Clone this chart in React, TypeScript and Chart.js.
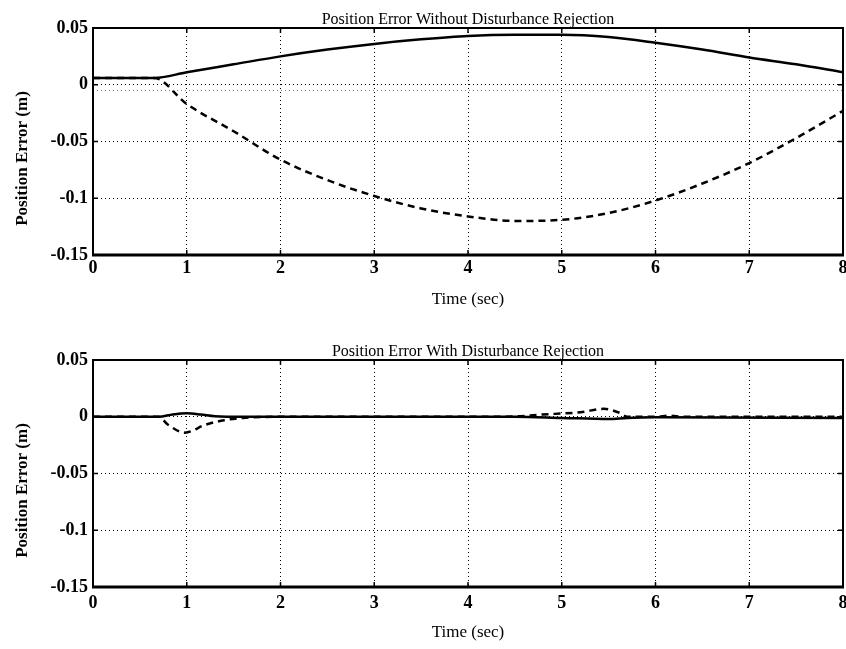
import React, { useEffect, useRef } from "react";
import { Chart, registerables } from "chart.js";

Chart.register(...registerables);

// Shared axis ticks
const xTicks = [0, 1, 2, 3, 4, 5, 6, 7, 8];
const yTicks = [0.05, 0, -0.05, -0.1, -0.15];
const yTickLabels = ["0.05", "0", "-0.05", "-0.1", "-0.15"];

// Upper panel: without disturbance rejection
const topTime = [0, 0.65, 1, 1.5, 2, 2.5, 3, 3.5, 4, 4.5, 5, 5.5, 6, 6.5, 7, 7.5, 8];
const topSolid = [0.006, 0.006, 0.011, 0.018, 0.025, 0.031, 0.036, 0.040, 0.043, 0.044, 0.044, 0.042, 0.037, 0.031, 0.024, 0.018, 0.011];
const topDashed = [0.006, 0.006, -0.017, -0.041, -0.066, -0.084, -0.098, -0.109, -0.116, -0.120, -0.119, -0.113, -0.102, -0.087, -0.069, -0.047, -0.023];
const topDottedTime = [0, 8];
const topDotted = [-0.005, -0.005];

// Lower panel: with disturbance rejection
const bottomSolidTime = [0, 0.7, 0.85, 1.0, 1.15, 1.3, 1.6, 4.5, 5.0, 5.5, 5.7, 6.0, 8];
const bottomSolid = [0, 0, 0.002, 0.003, 0.002, 0.0005, 0, 0, -0.001, -0.002, -0.001, -0.0005, -0.001];
const bottomDashedTime = [0, 0.7, 0.8, 0.98, 1.2, 1.4, 1.6, 2, 4.4, 4.8, 5.2, 5.45, 5.6, 5.7, 6.0, 6.15, 6.3, 8];
const bottomDashed = [0, 0, -0.007, -0.014, -0.007, -0.003, -0.001, 0, 0, 0.002, 0.004, 0.007, 0.004, 0, 0, 0.001, 0, 0];

const FONT = "'Liberation Serif', 'Times New Roman', serif";
const W = 846;

const pts = (xs: number[], ys: number[]) => xs.map((x, i) => ({ x, y: ys[i] }));

// Draws the panel title, the boxed frame and inward tick marks (MATLAB style)
const framePlugin = {
  id: "panelFrame",
  afterDraw(chart: any, _args: any, opts: any) {
    const { ctx, chartArea: a, scales } = chart;
    ctx.save();
    ctx.strokeStyle = "#000";
    ctx.lineWidth = 2;
    ctx.strokeRect(a.left, a.top, a.right - a.left, a.bottom - a.top);
    ctx.lineWidth = 3;
    ctx.beginPath();
    ctx.moveTo(a.left - 1, a.bottom);
    ctx.lineTo(a.right + 1, a.bottom);
    ctx.stroke();
    ctx.lineWidth = 1.5;
    const tl = 5;
    ctx.beginPath();
    xTicks.forEach((v) => {
      const px = scales.x.getPixelForValue(v);
      ctx.moveTo(px, a.bottom);
      ctx.lineTo(px, a.bottom - tl);
      ctx.moveTo(px, a.top);
      ctx.lineTo(px, a.top + tl);
    });
    yTicks.forEach((v) => {
      const py = scales.y.getPixelForValue(v);
      ctx.moveTo(a.left, py);
      ctx.lineTo(a.left + tl, py);
      ctx.moveTo(a.right, py);
      ctx.lineTo(a.right - tl, py);
    });
    ctx.stroke();
    ctx.fillStyle = "#000";
    ctx.font = `16px ${FONT}`;
    ctx.textAlign = "center";
    ctx.textBaseline = "alphabetic";
    ctx.fillText(opts.text, (a.left + a.right) / 2, a.top - 4);
    ctx.restore();
  },
};

type PanelSpec = {
  title: string;
  height: number;
  plotTop: number;
  plotBottom: number;
  tickPad: number;
  xTitlePad: number;
  datasets: any[];
};

function makeConfig(spec: PanelSpec): any {
  const fixTicks = (values: number[]) => (scale: any) => {
    scale.ticks = values.map((value) => ({ value }));
  };
  return {
    type: "line",
    data: { datasets: spec.datasets },
    plugins: [framePlugin],
    options: {
      responsive: false,
      animation: false,
      parsing: false,
      layout: { padding: { top: spec.plotTop, left: 0, right: 3, bottom: 0 } },
      plugins: {
        legend: { display: false },
        tooltip: { enabled: false },
        title: { display: false },
        panelFrame: { text: spec.title },
      },
      elements: { point: { radius: 0 } },
      scales: {
        x: {
          type: "linear",
          min: 0,
          max: 8,
          afterBuildTicks: fixTicks(xTicks),
          afterFit: (s: any) => {
            s.height = spec.height - spec.plotBottom;
            s.paddingLeft = 0;
            s.paddingRight = 0;
          },
          grid: { color: "#000", lineWidth: 1, drawTicks: false },
          border: { display: false, dash: [1, 3] },
          ticks: {
            color: "#000",
            padding: spec.tickPad,
            maxRotation: 0,
            font: { family: FONT, size: 18, weight: "bold" },
            callback: (v: number) => String(v),
          },
          title: {
            display: true,
            text: "Time (sec)",
            color: "#000",
            font: { family: FONT, size: 17 },
            padding: { top: 0, bottom: spec.xTitlePad },
          },
        },
        y: {
          type: "linear",
          min: -0.15,
          max: 0.05,
          afterBuildTicks: fixTicks(yTicks),
          afterFit: (s: any) => {
            s.width = 93;
            s.paddingTop = 0;
            s.paddingBottom = 0;
          },
          grid: { color: "#000", lineWidth: 1, drawTicks: false },
          border: { display: false, dash: [1, 3] },
          ticks: {
            color: "#000",
            padding: 5,
            font: { family: FONT, size: 18, weight: "bold" },
            callback: (v: number) => {
              const i = yTicks.findIndex((t) => Math.abs(t - v) < 1e-9);
              return i >= 0 ? yTickLabels[i] : "";
            },
          },
          title: {
            display: true,
            // trailing em spaces push the visible label a little below the axis centre
            text: "Position Error (m)\u2003\u2003",
            color: "#000",
            font: { family: FONT, size: 17, weight: "bold" },
            padding: { top: 12, bottom: 0 },
          },
        },
      },
    },
  };
}

const solidStyle = {
  borderColor: "#000",
  borderWidth: 2.5,
  pointRadius: 0,
  fill: false,
  cubicInterpolationMode: "monotone",
};
const dashedStyle = { ...solidStyle, borderDash: [7, 5] };
const dottedStyle = { ...solidStyle, borderColor: "#777", borderWidth: 1, borderDash: [1, 3] };

const TOP_H = 325;
const BOTTOM_H = 324;

export default function App() {
  const topRef = useRef<HTMLCanvasElement>(null);
  const bottomRef = useRef<HTMLCanvasElement>(null);

  useEffect(() => {
    const top = new Chart(
      topRef.current as HTMLCanvasElement,
      makeConfig({
        title: "Position Error Without Disturbance Rejection",
        height: TOP_H,
        plotTop: 28,
        plotBottom: 255,
        tickPad: 3,
        xTitlePad: 15,
        datasets: [
          { ...dottedStyle, data: pts(topDottedTime, topDotted) },
          { ...solidStyle, data: pts(topTime, topSolid) },
          { ...dashedStyle, data: pts(topTime, topDashed) },
        ],
      })
    );
    const bottom = new Chart(
      bottomRef.current as HTMLCanvasElement,
      makeConfig({
        title: "Position Error With Disturbance Rejection",
        height: BOTTOM_H,
        plotTop: 35,
        plotBottom: 262,
        tickPad: 6,
        xTitlePad: 6,
        datasets: [
          { ...solidStyle, data: pts(bottomSolidTime, bottomSolid) },
          { ...dashedStyle, data: pts(bottomDashedTime, bottomDashed) },
        ],
      })
    );
    return () => {
      top.destroy();
      bottom.destroy();
    };
  }, []);

  return (
    <div style={{ position: "absolute", left: 0, top: 0, width: W, height: TOP_H + BOTTOM_H, background: "#fff" }}>
      <canvas ref={topRef} width={W} height={TOP_H} style={{ position: "absolute", left: 0, top: 0, width: W, height: TOP_H }} />
      <canvas ref={bottomRef} width={W} height={BOTTOM_H} style={{ position: "absolute", left: 0, top: TOP_H, width: W, height: BOTTOM_H }} />
    </div>
  );
}
